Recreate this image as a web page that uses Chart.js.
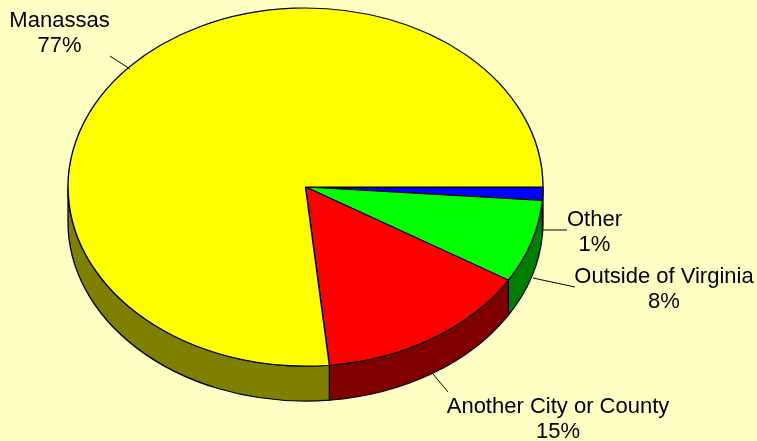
<!DOCTYPE html>
<html>
<head>
<meta charset="utf-8">
<title>Pie</title>
<script src="https://cdn.jsdelivr.net/npm/chart.js@4"></script>
<style>
  html, body { margin: 0; padding: 0; background: #ffffc4; overflow: hidden; }
  #wrap { position: relative; width: 757px; height: 441px; }
</style>
</head>
<body>
<div id="wrap"><canvas id="myChart" width="757" height="441"></canvas></div>
<script>
// listed clockwise from 3 o'clock
const categories = ['Other', 'Outside of Virginia', 'Another City or County', 'Manassas'];
const shares = [1.2, 7.5, 14.7, 76.6];
const percentLabels = ['1%', '8%', '15%', '77%'];
const topColors = ['#0000ff', '#00ff00', '#ff0000', '#ffff00'];
const wallColors = ['#000080', '#008000', '#800000', '#808000'];

// the look of the tilted pie
const squash = 0.754;
const depth = 35;
const pieRadius = 237.5;

// label centre and leader line for each category
const labelSpots = [
    { x: 594.5, y: 220, lead: [543, 230, 567, 230] },
    { x: 664, y: 277, lead: [533, 278, 575, 287] },
    { x: 558, y: 407, lead: [433, 374, 448, 392] },
    { x: 59.5, y: 21, lead: [110, 56, 130, 69] }
];

const tiltPlugin = {
    id: 'tilt',
    beforeDatasetsDraw(chart) {
        const ctx = chart.ctx;
        const arcs = chart.getDatasetMeta(0).data;
        const cx = arcs[0].x, cy = arcs[0].y;
        const rx = arcs[0].outerRadius, ry = rx * squash;

        // side wall, only the part facing us (angles 0..PI)
        arcs.forEach((arc, i) => {
            const from = Math.max(arc.startAngle, 0);
            const to = Math.min(arc.endAngle, Math.PI);
            if (to <= from) return;
            ctx.beginPath();
            ctx.ellipse(cx, cy, rx, ry, 0, from, to);
            ctx.ellipse(cx, cy + depth, rx, ry, 0, to, from, true);
            ctx.closePath();
            ctx.fillStyle = wallColors[i];
            ctx.fill();
            ctx.strokeStyle = '#000';
            ctx.lineWidth = 1.3;
            ctx.stroke();
        });

        // squash the pie itself into an ellipse
        ctx.save();
        ctx.translate(0, cy);
        ctx.scale(1, squash);
        ctx.translate(0, -cy);
    },
    afterDatasetsDraw(chart) {
        const ctx = chart.ctx;
        ctx.restore();

        ctx.strokeStyle = '#000';
        ctx.lineWidth = 1;
        ctx.fillStyle = '#000';
        ctx.font = '22px "Liberation Sans", Arial, sans-serif';
        ctx.textAlign = 'center';
        ctx.textBaseline = 'middle';
        categories.forEach((name, i) => {
            const s = labelSpots[i];
            ctx.beginPath();
            ctx.moveTo(s.lead[0], s.lead[1]);
            ctx.lineTo(s.lead[2], s.lead[3]);
            ctx.stroke();
            ctx.fillText(name, s.x, s.y);
            ctx.fillText(percentLabels[i], s.x, s.y + 25);
        });
    }
};

const ctx = document.getElementById('myChart').getContext('2d');
const myChart = new Chart(ctx, {
    type: 'pie',
    data: {
        labels: categories,
        datasets: [{
            data: shares,
            backgroundColor: topColors,
            borderColor: '#000',
            borderWidth: 1.4,
            clip: false
        }]
    },
    options: {
        responsive: false,
        animation: false,
        rotation: 90,
        radius: pieRadius,
        layout: { padding: { left: 68, right: 214, top: 0, bottom: 67 } },
        plugins: { legend: { display: false }, tooltip: { enabled: false } }
    },
    plugins: [tiltPlugin]
});
</script>
</body>
</html>
